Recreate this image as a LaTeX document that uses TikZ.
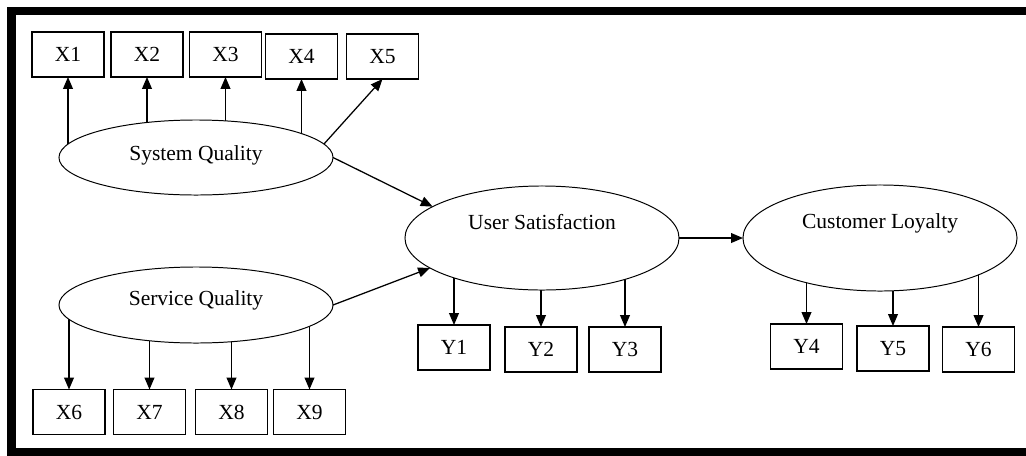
\documentclass[tikz,border=0pt]{standalone}
\usepackage{fontspec}
\setmainfont{Liberation Serif}
\usetikzlibrary{arrows.meta,backgrounds,shapes.geometric}

\begin{document}
\begin{tikzpicture}[x=0.025cm,y=-0.025cm,
    font=\fontsize{15.3}{18}\selectfont,
    item/.style={draw,line width=0.9pt,fill=white,minimum width=1.8cm,
      minimum height=1.125cm,inner sep=0pt,outer sep=0pt},
    latent/.style={draw,ellipse,line width=0.7pt,fill=white,minimum width=6.85cm,
      inner sep=0pt,outer sep=0pt},
    arr/.style={line width=0.9pt,-{Triangle[length=8.5pt,width=7pt]}}]
\useasboundingbox (0,0) rectangle (1026,455);
% frame, open at the right
\draw[line width=0.2cm,line join=miter] (1040,11) -- (11.5,11) -- (11.5,451.5) -- (1040,451.5);
% latent variables
\node[latent,minimum height=1.875cm] (sq) at (196,157.5) {\raisebox{7pt}{System Quality}};
\node[latent,minimum height=1.9cm] (sv) at (196,305) {\raisebox{10pt}{Service Quality}};
\node[latent,minimum height=2.6cm] (us) at (542,238) {\raisebox{22.8pt}{User Satisfaction}};
\node[latent,minimum height=2.65cm] (cl) at (880,238) {\raisebox{24pt}{Customer Loyalty}};
% indicators
\node[item] (X1) at (68,54.5) {X1};
\node[item] (X2) at (147,54.5) {X2};
\node[item] (X3) at (225.5,54.5) {X3};
\node[item] (X4) at (301.5,56.5) {X4};
\node[item] (X5) at (382.5,56.5) {X5};
\node[item] (X6) at (69,412) {X6};
\node[item] (X7) at (149.5,412) {X7};
\node[item] (X8) at (231.5,412) {X8};
\node[item] (X9) at (309.5,412) {X9};
\node[item] (Y1) at (454,347.5) {Y1};
\node[item] (Y2) at (541,349.5) {Y2};
\node[item] (Y3) at (625,349.5) {Y3};
\node[item] (Y4) at (806.5,346.5) {Y4};
\node[item] (Y5) at (893,348.5) {Y5};
\node[item] (Y6) at (978.5,349.5) {Y6};
% loadings
\begin{scope}[on background layer]
  \foreach \n in {X1,X2,X3,X4} \draw[arr] (sq.center -| \n) -- (\n);
  \foreach \n in {X6,X7,X8,X9} \draw[arr] (sv.center -| \n) -- (\n);
  \foreach \n in {Y1,Y2,Y3} \draw[arr] (us.center -| \n) -- (\n);
  \foreach \n in {Y4,Y5,Y6} \draw[arr] (cl.center -| \n) -- (\n);
\end{scope}
\draw[arr] (sq.6) -- (X5.south);
% paths
\draw[arr] (sq.east) -- (us.164);
\draw[arr] (sv.east) -- (us.195);
\draw[arr] (us) -- (cl);
\end{tikzpicture}
\end{document}
